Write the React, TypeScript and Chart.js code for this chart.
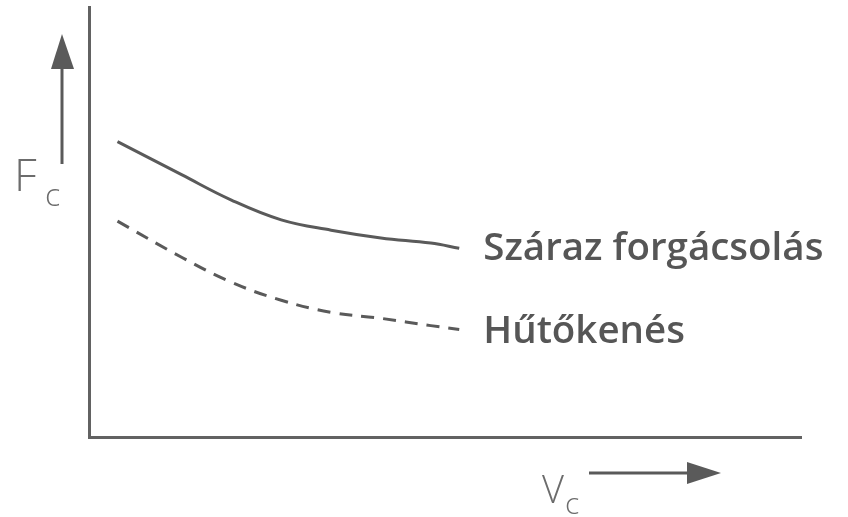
import React, { useEffect, useRef } from "react";
import { Chart, registerables } from "chart.js";

Chart.register(...registerables);

// Cutting speed (relative units) and cutting force for the two conditions
const speedValues = [4, 13, 20, 27, 34, 41, 48, 52];
const dryCutting = [68.7, 61.0, 55.1, 50.5, 48.1, 46.3, 45.1, 43.9];
const coolingLubrication = [50.2, 41.8, 36.0, 31.8, 29.0, 27.6, 25.9, 25.0];

const seriesLabels = ["Száraz forgácsolás", "Hűtőkenés"];
const yAxisLabel = ["F", "c"];
const xAxisLabel = ["V", "c"];

const INK = "#5a5a5a";
const AXIS = "#626262";

const toPoints = (ys: number[]) => speedValues.map((x, i) => ({ x, y: ys[i] }));

// Draws the axis arrows, axis symbols and the end-of-curve labels
const annotations = {
  id: "annotations",
  afterDraw(chart: any) {
    const { ctx, chartArea, scales } = chart;
    const xs = scales.x;
    const ys = scales.y;
    ctx.save();

    // vertical arrow (F_c)
    const ax = chartArea.left - 27;
    ctx.strokeStyle = INK;
    ctx.fillStyle = INK;
    ctx.lineWidth = 3;
    ctx.beginPath();
    ctx.moveTo(ax, chartArea.top + 157);
    ctx.lineTo(ax, chartArea.top + 60);
    ctx.stroke();
    ctx.beginPath();
    ctx.moveTo(ax, chartArea.top + 27);
    ctx.lineTo(ax - 11, chartArea.top + 62);
    ctx.lineTo(ax + 12, chartArea.top + 62);
    ctx.closePath();
    ctx.fill();

    // horizontal arrow (v_c)
    const ay = chartArea.bottom + 36;
    const x0 = chartArea.left + 500;
    ctx.beginPath();
    ctx.moveTo(x0, ay);
    ctx.lineTo(x0 + 102, ay);
    ctx.stroke();
    ctx.beginPath();
    ctx.moveTo(x0 + 132, ay);
    ctx.lineTo(x0 + 98, ay - 11);
    ctx.lineTo(x0 + 98, ay + 11);
    ctx.closePath();
    ctx.fill();

    // axis symbols
    ctx.fillStyle = "#6c6c6c";
    ctx.textBaseline = "alphabetic";
    ctx.textAlign = "left";
    ctx.font = "300 45px 'Open Sans'";
    ctx.fillText(yAxisLabel[0], 14, chartArea.top + 184);
    ctx.font = "300 32px 'Open Sans'";
    ctx.fillText(yAxisLabel[1], 45, chartArea.top + 199);
    ctx.font = "300 38px 'Open Sans'";
    ctx.fillText(xAxisLabel[0], 542, chartArea.bottom + 66);
    ctx.font = "300 30px 'Open Sans'";
    ctx.fillText(xAxisLabel[1], 565, chartArea.bottom + 77);

    // labels at the end of each curve
    ctx.fillStyle = "#565656";
    ctx.font = "600 38.5px 'Open Sans'";
    const series = [dryCutting, coolingLubrication];
    const offsets = [12, 13];
    series.forEach((vals, i) => {
      const last = vals.length - 1;
      const px = xs.getPixelForValue(speedValues[last]);
      const py = ys.getPixelForValue(vals[last]);
      ctx.fillText(seriesLabels[i], px + 24, py + offsets[i]);
    });

    ctx.restore();
  },
};

export default function App() {
  const canvasRef = useRef<HTMLCanvasElement | null>(null);

  useEffect(() => {
    const canvas = canvasRef.current;
    if (!canvas) return;
    const chart = new Chart(canvas, {
      type: "line",
      data: {
        datasets: [
          {
            label: seriesLabels[0],
            data: toPoints(dryCutting),
            borderColor: INK,
            borderWidth: 3,
            pointRadius: 0,
            tension: 0.4,
            fill: false,
          },
          {
            label: seriesLabels[1],
            data: toPoints(coolingLubrication),
            borderColor: INK,
            borderWidth: 3,
            borderDash: [13, 9],
            pointRadius: 0,
            tension: 0.4,
            fill: false,
          },
        ],
      },
      options: {
        animation: false,
        responsive: false,
        events: [],
        layout: { padding: { left: 89, right: 47, top: 7, bottom: 80 } },
        plugins: {
          legend: { display: false },
          tooltip: { enabled: false },
        },
        scales: {
          x: {
            type: "linear",
            min: 0,
            max: 100,
            grid: { display: false, drawTicks: false },
            ticks: { display: false },
            border: { display: true, color: AXIS, width: 3 },
          },
          y: {
            type: "linear",
            min: 0,
            max: 100,
            grid: { display: false, drawTicks: false },
            ticks: { display: false },
            border: { display: true, color: AXIS, width: 3 },
          },
        },
      },
      plugins: [annotations],
    });
    return () => chart.destroy();
  }, []);

  return (
    <div style={{ position: "fixed", left: 0, top: 0, width: 848, height: 517, background: "#fff" }}>
      <canvas ref={canvasRef} width={848} height={517} />
    </div>
  );
}
